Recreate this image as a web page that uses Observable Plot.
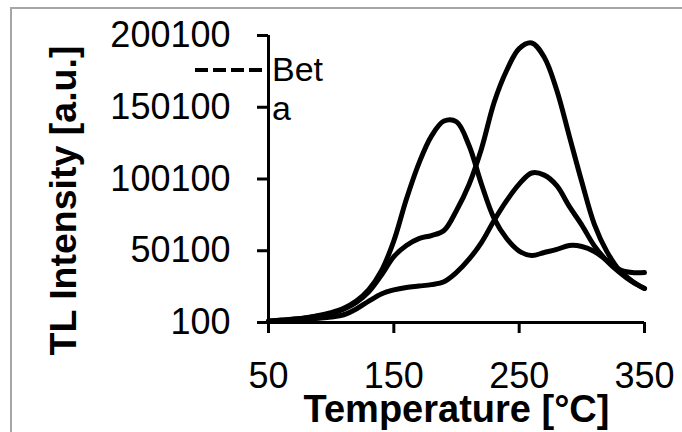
<!DOCTYPE html>
<html>
<head>
<meta charset="utf-8">
<script src="https://cdn.jsdelivr.net/npm/d3@7"></script>
<script src="https://cdn.jsdelivr.net/npm/@observablehq/plot@0.6"></script>
<style>
  html, body { margin: 0; padding: 0; background: #fff; overflow: hidden; }
  #chart { position: relative; width: 682px; height: 432px; font-family: "Liberation Sans", Arial, sans-serif; }
  #frame { position: absolute; left: 10px; top: 7px; width: 800px; height: 600px;
           border-left: 2px solid #a6a6a6; border-top: 2px solid #a6a6a6; }
  #chart svg { position: absolute; left: 0; top: 0; }
</style>
</head>
<body>
<div id="chart"><div id="frame"></div></div>
<script>
// Glow curves: temperature (°C) vs TL intensity (a.u.)
const temps = [50, 60, 70, 80, 90, 100, 110, 120, 130, 140, 150, 160, 170, 180, 190, 200,
               210, 220, 230, 240, 250, 260, 270, 280, 290, 300, 310, 320, 330, 340, 350];

// Peak near 195 °C with a low bump near 290 °C
const curveA = [1200, 1800, 2500, 3500, 5000, 7000, 10000, 15000, 23000, 36000, 57000, 86000,
                111000, 130000, 140500, 140000, 123400, 96300, 72600, 58600, 49900, 46800, 48900,
                51000, 53800, 53100, 49600, 43300, 37000, 34900, 34900];

// Shoulder near 175 °C, main peak near 258 °C
const curveB = [1000, 1600, 2300, 3300, 4700, 6500, 9300, 14000, 21500, 33000, 46000, 53800,
                58600, 60700, 64200, 78200, 96300, 121400, 153400, 175700, 191000, 194900, 185000,
                162000, 130000, 98000, 68500, 49500, 36500, 29000, 23800];

// Shoulder near 165 °C, peak near 262 °C
const curveC = [800, 1200, 1700, 2300, 3000, 3900, 5500, 9500, 15000, 20000, 22800, 24500,
                25500, 26500, 28500, 35000, 44200, 56000, 71200, 85000, 96500, 104300, 102800,
                95500, 81000, 68000, 53500, 43000, 35000, 28500, 23800];

const seriesNames = ["A", "B", "C"];
const seriesValues = [curveA, curveB, curveC];

const xTicks = [50, 150, 250, 350];
const yTicks = [100, 50100, 100100, 150100, 200100];

const xTitle = "Temperature [°C]";
const yTitle = "TL Intensity [a.u.]";
const legendLines = ["Bet", "a"];

const rows = [];
seriesNames.forEach((name, s) => {
  temps.forEach((t, i) => rows.push({series: name, t, v: seriesValues[s][i]}));
});

const font = '"Liberation Sans", Arial, sans-serif';

const chart = Plot.plot({
  width: 682,
  height: 432,
  marginLeft: 268,
  marginRight: 38,
  marginTop: 35,
  marginBottom: 110,
  style: {background: "transparent", color: "black", fontFamily: font},
  x: {domain: [50, 350]},
  y: {domain: [100, 200100]},
  marks: [
    Plot.line(rows, {
      x: "t", y: "v", z: "series",
      stroke: "black", strokeWidth: 5,
      curve: "catmull-rom", strokeLinejoin: "round", strokeLinecap: "round"
    }),
    Plot.ruleX([50], {stroke: "black", strokeWidth: 3}),
    Plot.ruleY([100], {stroke: "black", strokeWidth: 3}),
    Plot.axisY({
      ticks: yTicks, tickSize: 11, tickPadding: 27, fontSize: 36,
      strokeWidth: 3, stroke: "black", fill: "black",
      tickFormat: d => String(d), label: null
    }),
    Plot.axisX({
      ticks: xTicks, tickSize: 11, tickPadding: 29, fontSize: 36,
      strokeWidth: 3, stroke: "black", fill: "black",
      tickFormat: d => String(d), label: null
    }),
    Plot.text([yTitle], {
      text: d => d, frameAnchor: "left", textAnchor: "middle", rotate: -90,
      dx: -205, dy: 21.5, fontSize: 37.5, fontWeight: "bold", fill: "black"
    }),
    Plot.text([xTitle], {
      text: d => d, frameAnchor: "bottom", lineAnchor: "bottom",
      dy: 99, fontSize: 38, fontWeight: "bold", fill: "black"
    })
  ]
});

document.getElementById("chart").appendChild(chart);

// Legend: dashed sample line with the wrapped series name
const legend = d3.select("#chart").append("svg")
  .attr("width", 682).attr("height", 432)
  .style("font-family", font);

legend.append("line")
  .attr("x1", 195).attr("x2", 266)
  .attr("y1", 70).attr("y2", 70)
  .attr("stroke", "black").attr("stroke-width", 4)
  .attr("stroke-dasharray", "13 5");

legend.selectAll("text.entry")
  .data(legendLines)
  .join("text")
  .attr("class", "entry")
  .attr("x", 272)
  .attr("y", (d, i) => 81 + i * 39)
  .attr("font-size", 34)
  .attr("fill", "black")
  .text(d => d);
</script>
</body>
</html>
